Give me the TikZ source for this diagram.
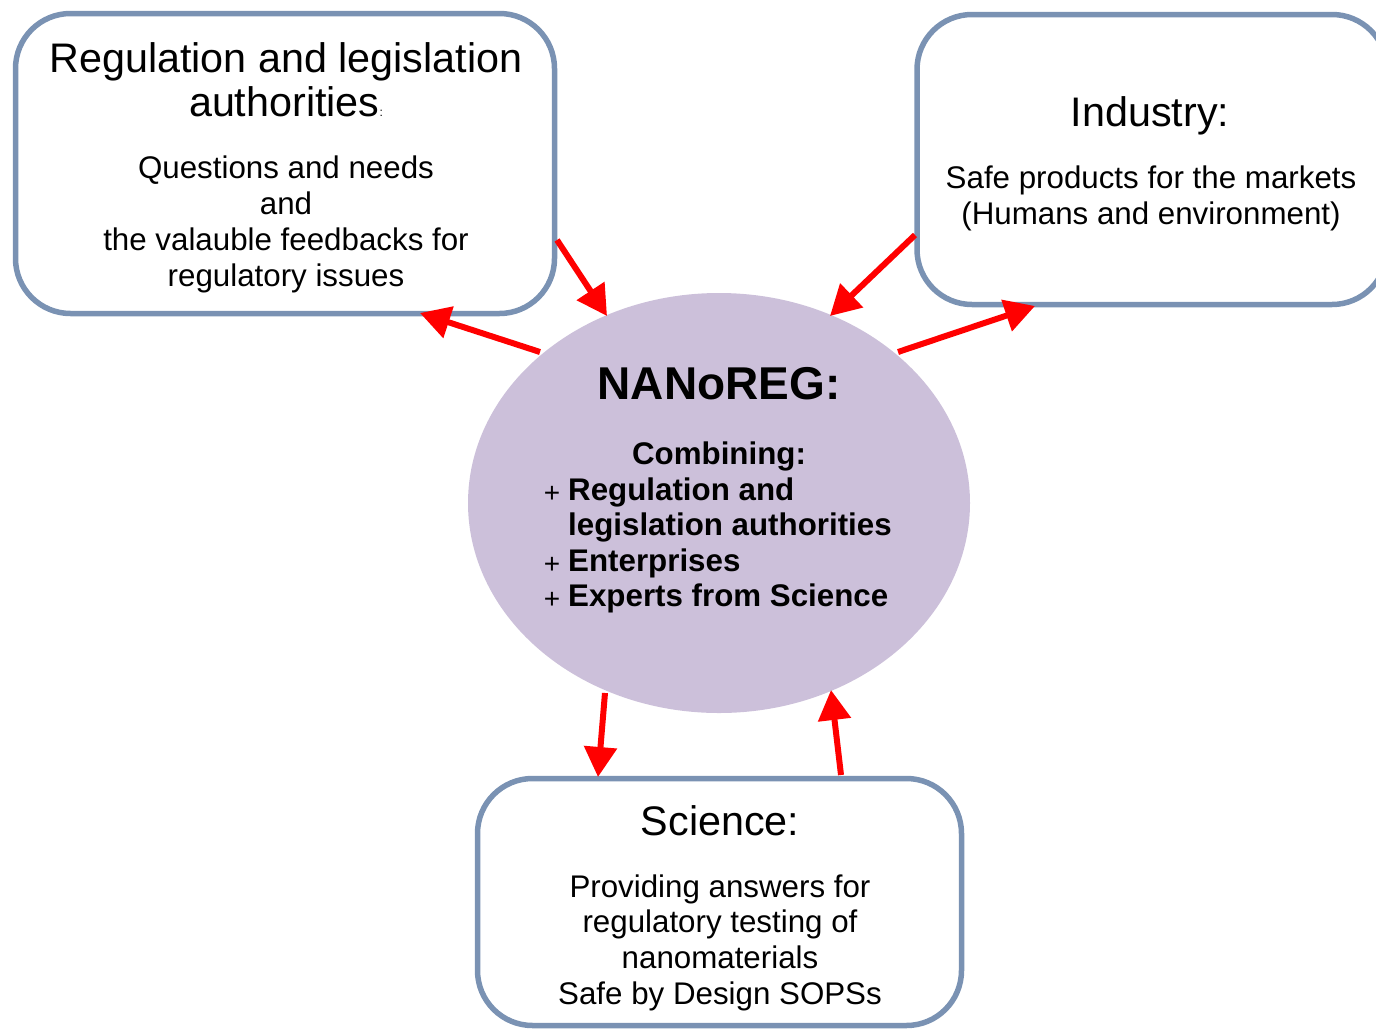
\documentclass[tikz,border=0pt]{standalone}
\usepackage{fontspec}
\setmainfont{Liberation Sans}
\usetikzlibrary{arrows.meta,shapes.geometric}
\definecolor{boxline}{RGB}{122,146,179}
\definecolor{nanofill}{RGB}{204,192,218}
\begin{document}
\begin{tikzpicture}[x=1pt,y=-1pt,
  party/.style={draw=boxline, line width=5.5pt, rounded corners=55pt, fill=white, inner sep=0pt},
  hub/.style={ellipse, fill=nanofill, inner sep=0pt},
  head/.style={font=\fontsize{41.3}{44}\selectfont, anchor=base, inner sep=0pt},
  body/.style={font=\fontsize{31.3}{36}\selectfont, anchor=base, inner sep=0pt},
  hubhead/.style={font=\bfseries\fontsize{46}{50}\selectfont, anchor=base, inner sep=0pt},
  hubbody/.style={font=\bfseries\fontsize{31.3}{36}\selectfont, anchor=base, inner sep=0pt},
  plus/.style={font=\fontsize{28}{28}\selectfont, inner sep=0pt},
  link/.style={draw=red, line width=6pt, -{Triangle[length=30pt,width=32pt]}},
]
\useasboundingbox (0,0) rectangle (1376,1031);
\clip (0,0) rectangle (1376,1031);

% the three partners and the project in the middle
\node[party, minimum width=539, minimum height=300] (reg) at (285,163.5) {};
\node[party, minimum width=470, minimum height=290] (ind) at (1152,159.5) {};
\node[party, minimum width=484, minimum height=247] (sci) at (719.5,902) {};
\node[hub, minimum width=502, minimum height=420] (nano) at (719,503) {};

% regulation and legislation authorities
\node[head] (reg-h1) at (286,72) {Regulation and legislation};
\node[head] (reg-h2) at (286,116) {authorities{\fontsize{12}{12}\selectfont:}};
\foreach \t [count=\i] in {Questions and needs, and, the valauble feedbacks for, regulatory issues}
  \node[body] (reg-b\i) at (286,{178+36*(\i-1)}) {\t};

% industry
\node[head] (ind-h) at (1150,126) {Industry:};
\node[body] (ind-b1) at (1151,188) {Safe products for the markets};
\node[body] (ind-b2) at (1151,224) {(Humans and environment)};

% science
\node[head] (sci-h) at (720,835) {Science:};
\foreach \t [count=\i] in {Providing answers for, regulatory testing of, nanomaterials, Safe by Design SOPSs}
  \node[body] (sci-b\i) at (720,{897+35.7*(\i-1)}) {\t};

% NANoREG
\node[hubhead] (nano-h) at (719,399) {NANoREG:};
\node[hubbody] (nano-c) at (719,464) {Combining:};
\node[hubbody, anchor=base west] (nano-l1) at (568,500) {Regulation and};
\node[hubbody, anchor=base west] (nano-l2) at (568,535.5) {legislation authorities};
\node[hubbody, anchor=base west] (nano-l3) at (568,571) {Enterprises};
\node[hubbody, anchor=base west] (nano-l4) at (568,606.5) {Experts from Science};
\node[plus] (nano-p1) at (552,494) {+};
\node[plus] (nano-p3) at (552,565) {+};
\node[plus] (nano-p4) at (552,600.5) {+};

% ends of the exchanges
\coordinate (reg-out) at (557,240);
\coordinate (nano-in-reg) at (607,316);
\coordinate (nano-out-reg) at (540,352);
\coordinate (reg-in) at (420,313);
\coordinate (ind-out) at (915,235);
\coordinate (nano-in-ind) at (830,316);
\coordinate (nano-out-ind) at (898,352);
\coordinate (ind-in) at (1035,306);
\coordinate (nano-out-sci) at (605,693);
\coordinate (sci-in) at (598,777);
\coordinate (sci-out) at (841,775);
\coordinate (nano-in-sci) at (831,690);

\draw[link] (reg-out) -- (nano-in-reg);
\draw[link] (nano-out-reg) -- (reg-in);
\draw[link] (ind-out) -- (nano-in-ind);
\draw[link] (nano-out-ind) -- (ind-in);
\draw[link] (nano-out-sci) -- (sci-in);
\draw[link] (sci-out) -- (nano-in-sci);
\end{tikzpicture}
\end{document}
